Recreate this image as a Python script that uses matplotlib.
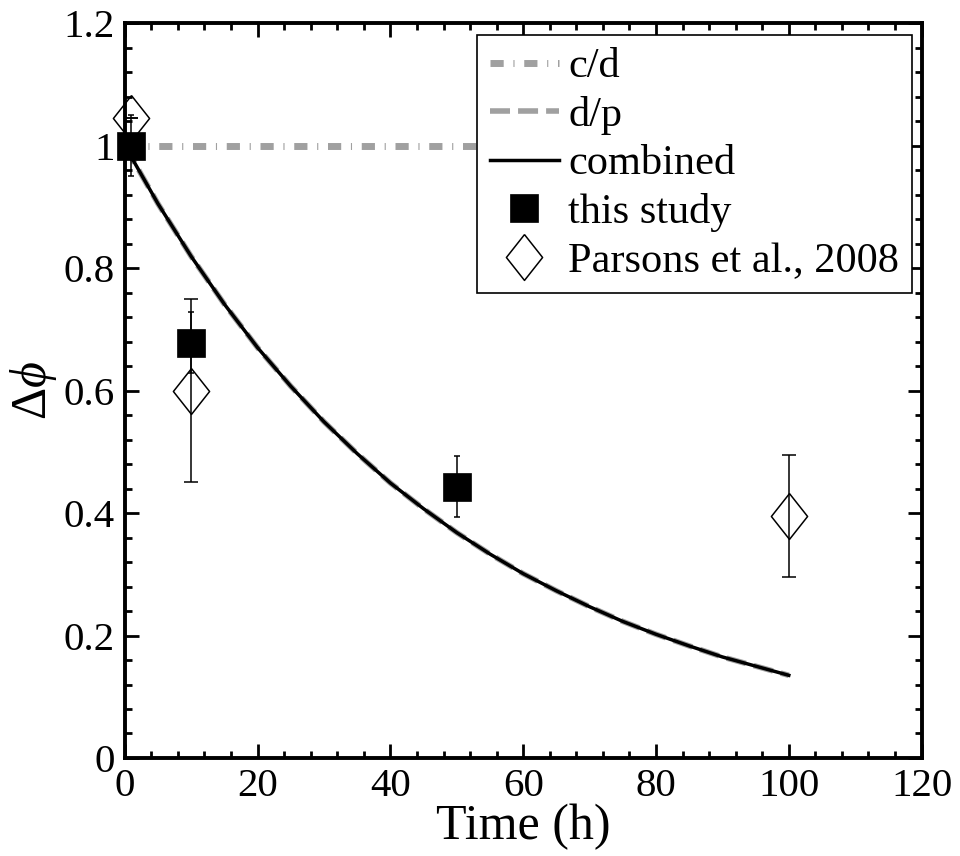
import matplotlib
matplotlib.use('Agg')
import matplotlib.pyplot as plt
from matplotlib.ticker import MultipleLocator, FixedLocator

plt.rcParams['font.family'] = ['Liberation Serif', 'DejaVu Serif']
plt.rcParams['mathtext.fontset'] = 'custom'
plt.rcParams['mathtext.rm'] = 'Liberation Serif'
plt.rcParams['mathtext.it'] = 'Liberation Serif:italic'
plt.rcParams['lines.scale_dashes'] = False

# model curves
cd_t = [0, 100]
cd_val = [1.0, 1.0]
model_t = [0, 5, 10, 15, 20, 25, 30, 35, 40, 45, 50,
           55, 60, 65, 70, 75, 80, 85, 90, 95, 100]
dp_val = [1.0, 0.905, 0.819, 0.741, 0.670, 0.607, 0.549, 0.497, 0.449, 0.407, 0.368,
          0.333, 0.301, 0.273, 0.247, 0.223, 0.202, 0.183, 0.165, 0.150, 0.135]
combined_val = dp_val

# measurements
study_t = [1, 10, 50]
study_val = [1.0, 0.678, 0.443]
study_err = [0.05, 0.05, 0.05]

parsons_t = [1, 10, 100]
parsons_val = [1.045, 0.60, 0.395]
parsons_err = [0.0, 0.15, 0.10]

yticks = [0, 0.2, 0.4, 0.6, 0.8, 1.0, 1.2]
ytick_labels = ['0', '0.2', '0.4', '0.6', '0.8', '1', '1.2']
xticks = [0, 20, 40, 60, 80, 100, 120]

fig = plt.figure(figsize=(9.6, 8.56), dpi=100)
ax = fig.add_axes([0.130, 0.1145, 0.830, 0.8585])

gray = '#a0a0a0'
ax.plot(cd_t, cd_val, color=gray, lw=5, dashes=(9.5, 7, 0.8, 7),
        dash_capstyle='butt', label='c/d', zorder=2)
ax.plot(model_t, dp_val, color=gray, lw=4, dashes=(14.4, 5.8),
        dash_capstyle='butt', label='d/p', zorder=2)
ax.plot(model_t, combined_val, color='black', lw=2.5, label='combined', zorder=3)

# error bars
ax.errorbar(parsons_t, parsons_val, yerr=parsons_err, fmt='none', ecolor='black',
            elinewidth=1.1, capsize=4.7, capthick=1.1, zorder=4)
ax.errorbar(study_t, study_val, yerr=study_err, fmt='none', ecolor='black',
            elinewidth=1.1, capsize=2.5, capthick=1.1, zorder=4)

diamond = [(0, 1), (0.79, 0), (0, -1), (-0.79, 0), (0, 1)]
ax.plot(parsons_t, parsons_val, linestyle='none', marker=diamond, markersize=33,
        markerfacecolor='none', markeredgecolor='black', markeredgewidth=1.1,
        label='Parsons et al., 2008', zorder=5, clip_on=False)
ax.plot(study_t, study_val, linestyle='none', marker='s', markersize=20,
        markerfacecolor='black', markeredgecolor='black', markeredgewidth=0.5,
        label='this study', zorder=6, clip_on=False)

ax.set_xlim(0, 120)
ax.set_ylim(0, 1.2)
ax.xaxis.set_major_locator(FixedLocator(xticks))
ax.xaxis.set_minor_locator(MultipleLocator(4))
ax.yaxis.set_major_locator(FixedLocator(yticks))
ax.set_yticklabels(ytick_labels)
ax.yaxis.set_minor_locator(MultipleLocator(0.04))

ax.tick_params(which='both', direction='in', top=True, right=True, labelsize=29.5)
ax.tick_params(which='major', length=10, width=2)
ax.tick_params(which='minor', length=5, width=2)
ax.tick_params(axis='y', pad=7)
ax.tick_params(axis='x', pad=7)
for sp in ax.spines.values():
    sp.set_linewidth(2.8)

ax.set_xlabel('Time (h)', fontsize=36, labelpad=-1)
ax.set_ylabel(r'$\Delta\phi$', fontsize=36)
ax.yaxis.set_label_coords(-0.083, 0.5)

handles, labels = ax.get_legend_handles_labels()
order = ['c/d', 'd/p', 'combined', 'this study', 'Parsons et al., 2008']
hmap = dict(zip(labels, handles))
leg = ax.legend([hmap[k] for k in order], order, loc='upper right',
                bbox_to_anchor=(912 / 960, 1 - 35 / 856), bbox_transform=fig.transFigure,
                fontsize=30.5, handlelength=1.65, handletextpad=0.21, labelspacing=0.23,
                borderpad=0.3, borderaxespad=0, fancybox=False, framealpha=1,
                edgecolor='black')
leg.get_frame().set_linewidth(1.2)
leg.set_zorder(10)

fig.savefig('out.png', dpi=100)
